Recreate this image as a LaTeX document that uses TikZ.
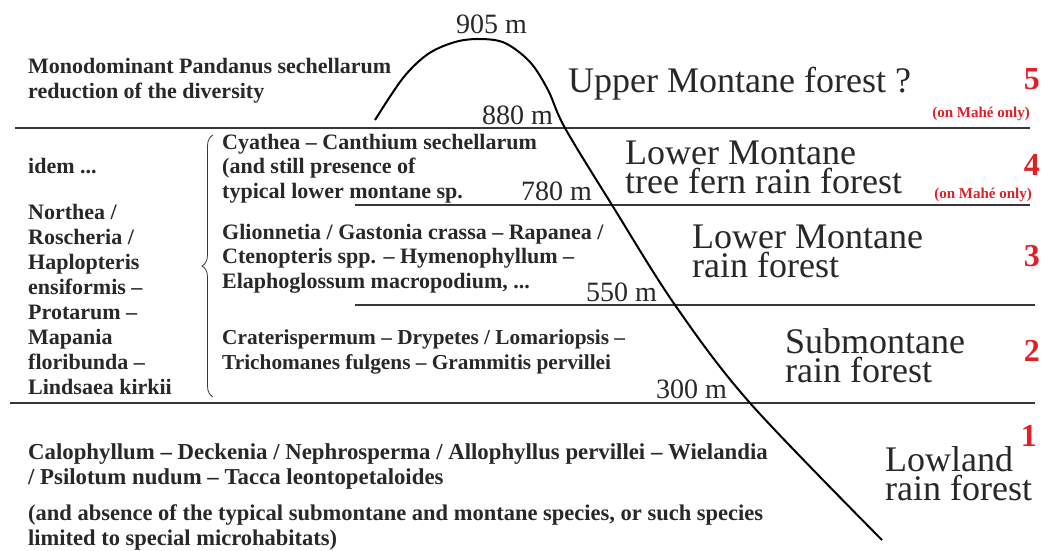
\documentclass[tikz,border=0pt]{standalone}
\usepackage{fontspec}
\setmainfont{Liberation Serif}
\usetikzlibrary{decorations.pathreplacing}
\definecolor{zonered}{RGB}{226, 30, 38}
\definecolor{zonetext}{RGB}{40, 40, 40}
\definecolor{zoneline}{RGB}{55, 55, 55}

\begin{document}
\begin{tikzpicture}[x=1pt, y=-1pt,
		% Text styles (multi-line nodes sit on the baseline of their last line)
		species/.style={text=zonetext, font=\bfseries\fontsize{22}{24.5}\selectfont,
				inner sep=0pt, align=left, anchor=base west},
		zonename/.style={text=zonetext, font=\fontsize{36}{29}\selectfont,
				inner sep=0pt, align=left, anchor=base west},
		zonenum/.style={text=zonered, font=\bfseries\fontsize{32}{32}\selectfont,
				inner sep=0pt, anchor=base east},
		mahe/.style={text=zonered, font=\bfseries\fontsize{15}{15}\selectfont,
				inner sep=0pt, anchor=base east},
		altitude/.style={text=zonetext, font=\fontsize{28}{28}\selectfont,
				inner sep=0pt, anchor=base east},
		% Line styles
		limit/.style={draw=zoneline, line width=2.5pt},
		slope/.style={draw=black, line width=2pt},
		bracket/.style={draw=zoneline, line width=0.8pt, decorate, decoration={brace, amplitude=11pt}}
	]

	\useasboundingbox (0,0) rectangle (1045,550);

	% Zone limits
	\draw[limit] (15,128) -- (1030,128);
	\draw[limit] (355,205) -- (1030,205);
	\draw[limit] (355,305) -- (1035,305);
	\draw[limit] (10,403) -- (1035,403);

	% Mountain profile
	\draw[slope] plot[smooth, tension=0.55] coordinates {(375,120) (403,78) (428,54) (455,42)
			(480,39) (505,43) (530,62) (548,90) (565,128) (612,205) (675,305) (750,403) (882,540)};

	% Altitudes
	\node[altitude] (alt905) at (527,33) {905 m};
	\node[altitude] (alt880) at (553,124) {880 m};
	\node[altitude] (alt780) at (592,200) {780 m};
	\node[altitude] (alt550) at (657,301) {550 m};
	\node[altitude] (alt300) at (727,398) {300 m};

	% Species lists
	\node[species] (sp5) at (28,98) {Monodominant Pandanus sechellarum\\reduction of the diversity};
	\node[species] (idem) at (28,173) {idem ...};
	\node[species, font=\bfseries\fontsize{22}{25}\selectfont] (spcommon) at (28,394) {Northea /\\Roscheria /\\Haplopteris\\ensiformis --\\Protarum --\\Mapania\\floribunda --\\Lindsaea kirkii};
	\node[species] (sp4) at (222,198) {Cyathea -- Canthium sechellarum\\(and still presence of\\typical lower montane sp.};
	\node[species] (sp3) at (222,288) {Glionnetia / Gastonia crassa -- Rapanea /\\Ctenopteris spp. -- Hymenophyllum --\\Elaphoglossum macropodium, ...};
	\node[species, font=\bfseries\fontsize{21.3}{24.5}\selectfont] (sp2) at (222,369) {Craterispermum -- Drypetes / Lomariopsis --\\Trichomanes fulgens -- Grammitis pervillei};
	\node[species, font=\bfseries\fontsize{22.8}{25}\selectfont] (sp1) at (28,484) {Calophyllum -- Deckenia / Nephrosperma / Allophyllus pervillei -- Wielandia\\/ Psilotum nudum -- Tacca leontopetaloides};
	\node[species, font=\bfseries\fontsize{22.5}{24.5}\selectfont] (sp1note) at (28,545) {(and absence of the typical submontane and montane species, or such species\\limited to special microhabitats)};

	% Bracket for the species common to zones 2 to 4
	\draw[bracket] (213,397) -- (213,135);

	% Forest zones
	\node[zonename] (zone5) at (568,92) {Upper Montane forest ?};
	\node[zonename] (zone4) at (625,193) {Lower Montane\\tree fern rain forest};
	\node[zonename] (zone3) at (692,277) {Lower Montane\\rain forest};
	\node[zonename] (zone2) at (785,382) {Submontane\\rain forest};
	\node[zonename] (zone1) at (885,500) {Lowland\\rain forest};

	% Zone numbers
	\node[zonenum] (num5) at (1040,89) {5};
	\node[zonenum] (num4) at (1040,175) {4};
	\node[zonenum] (num3) at (1040,266) {3};
	\node[zonenum] (num2) at (1040,361) {2};
	\node[zonenum] (num1) at (1037,446) {1};
	\node[mahe] (mahe5) at (1030,117) {(on Mahé only)};
	\node[mahe] (mahe4) at (1032,198) {(on Mahé only)};

\end{tikzpicture}
\end{document}
